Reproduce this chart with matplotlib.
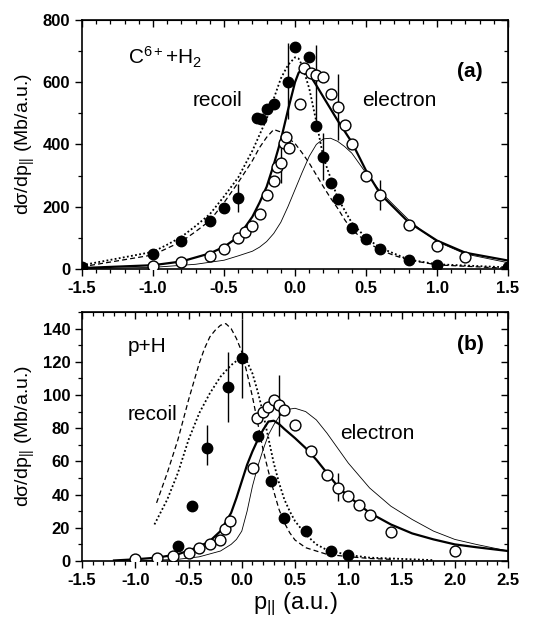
import numpy as np
import matplotlib.pyplot as plt
from matplotlib.ticker import MultipleLocator

plt.rcParams['font.family'] = ['Liberation Sans', 'DejaVu Sans']
plt.rcParams['mathtext.fontset'] = 'custom'
plt.rcParams['mathtext.rm'] = 'Liberation Sans'
plt.rcParams['mathtext.it'] = 'Liberation Sans:italic'
plt.rcParams['mathtext.bf'] = 'Liberation Sans:bold'

# ---- panel (a): C6+ + H2 ----
a_rec_x = [-1.5, -1.0, -0.8, -0.6, -0.5, -0.4, -0.27, -0.24, -0.2, -0.15, -0.05, 0.0,
           0.1, 0.15, 0.2, 0.25, 0.3, 0.4, 0.5, 0.6, 0.8, 1.0, 1.5]
a_rec_y = [5, 48, 89, 155, 196, 227, 484, 481, 513, 530, 602, 714,
           682, 459, 361, 277, 225, 133, 95, 63, 29, 13, 5]
a_ele_x = [-1.0, -0.8, -0.6, -0.5, -0.4, -0.35, -0.3, -0.25, -0.2, -0.15, -0.125, -0.1,
           -0.08, -0.063, -0.044, 0.036, 0.063, 0.11, 0.148, 0.195, 0.25, 0.3, 0.35,
           0.4, 0.5, 0.6, 0.8, 1.0, 1.2]
a_ele_y = [11, 21, 42, 63, 101, 118, 138, 177, 238, 281, 329, 340,
           404, 425, 388, 529, 645, 631, 623, 618, 562, 519, 463,
           402, 300, 238, 141, 75, 37]
# error bars: x, low, high
a_err_x = [-0.4, -0.05, 0.2, -0.1, 0.3, 0.6, 0.15]
a_err_lo = [182, 481, 286, 275, 414, 188, 463]
a_err_hi = [272, 725, 436, 405, 625, 285, 720]

a_thick_x = [-1.5, -1.0, -0.8, -0.6, -0.5, -0.4, -0.3, -0.25, -0.2, -0.15, -0.1, -0.05,
             0.0, 0.025, 0.05, 0.075, 0.1, 0.15, 0.2, 0.3, 0.4, 0.5, 0.6, 0.8, 1.0,
             1.2, 1.5]
a_thick_y = [3, 12, 24, 50, 71, 103, 168, 213, 264, 335, 414, 510,
             600, 630, 643, 640, 626, 590, 552, 477, 407, 316, 241, 150, 91,
             52, 27]
a_thin_x = [-1.5, -1.0, -0.7, -0.5, -0.4, -0.3, -0.25, -0.2, -0.15, -0.1, -0.05, 0.0,
            0.05, 0.1, 0.15, 0.2, 0.25, 0.3, 0.35, 0.4, 0.5, 0.6, 0.7, 0.8, 0.9,
            1.0, 1.2, 1.5]
a_thin_y = [1, 5, 15, 28, 42, 57, 70, 88, 114, 150, 200, 255,
            310, 362, 400, 418, 420, 410, 393, 372, 308, 249, 203, 158, 120,
            88, 48, 20]
a_dot_x = [-1.5, -1.0, -0.9, -0.8, -0.7, -0.6, -0.5, -0.4, -0.3, -0.2, -0.1, -0.05,
           0.0, 0.025, 0.05, 0.1, 0.15, 0.2, 0.3, 0.4, 0.5, 0.6, 0.8, 1.0, 1.5]
a_dot_y = [12, 55, 78, 103, 138, 176, 233, 294, 380, 482, 612, 655,
           680, 676, 654, 580, 473, 357, 228, 148, 100, 68, 30, 15, 5]
a_dash_x = [-1.5, -1.0, -0.8, -0.7, -0.6, -0.5, -0.4, -0.3, -0.25, -0.2, -0.15, -0.1,
            0.0, 0.05, 0.1, 0.15, 0.2, 0.25, 0.3, 0.35, 0.4, 0.5, 0.6, 0.7, 0.8,
            1.0, 1.5]
a_dash_y = [7, 45, 88, 120, 155, 213, 278, 348, 390, 423, 448, 440,
            403, 373, 340, 302, 264, 228, 195, 158, 126, 88, 61, 43, 29,
            13, 2]

# ---- panel (b): p + H ----
b_rec_x = [-0.6, -0.47, -0.33, -0.13, 0.0, 0.15, 0.27, 0.4, 0.6, 0.84, 1.0]
b_rec_y = [9, 33, 68, 105, 122, 75, 48, 26, 18, 6, 3.6]
b_ele_x = [-1.0, -0.8, -0.65, -0.5, -0.4, -0.3, -0.2, -0.16, -0.11, 0.11, 0.14, 0.2,
           0.25, 0.3, 0.35, 0.4, 0.5, 0.65, 0.8, 0.9, 1.0, 1.1, 1.2, 1.4, 2.0]
b_ele_y = [1, 2, 3, 4.6, 7.6, 10, 12.6, 19, 24, 56, 86, 90,
           93, 97, 94, 91, 82, 66, 52, 44, 39, 34, 28, 17.6, 6]
b_err_x = [-0.33, -0.13, 0.0, 0.35, 0.9]
b_err_lo = [58, 84, 98, 75, 36]
b_err_hi = [82, 126, 146, 112, 53]

b_thick_x = [-1.2, -1.0, -0.8, -0.6, -0.4, -0.3, -0.2, -0.1, -0.05, 0.0, 0.05, 0.1,
             0.15, 0.2, 0.25, 0.3, 0.35, 0.4, 0.5, 0.6, 0.7, 0.8, 0.9, 1.0, 1.2,
             1.4, 1.6, 1.8, 2.0, 2.2, 2.5]
b_thick_y = [0.3, 1, 2, 4, 8.6, 12, 18, 29, 38, 48, 58, 66,
             73, 79, 84, 84.5, 82.5, 79.5, 74, 68, 61, 53, 45, 39, 29,
             22, 16.6, 13, 10, 8.3, 6]
b_thin_x = [-1.0, -0.6, -0.4, -0.2, -0.1, -0.05, 0.0, 0.05, 0.1, 0.15, 0.2, 0.25,
            0.3, 0.35, 0.4, 0.45, 0.5, 0.6, 0.7, 0.8, 0.9, 1.0, 1.2, 1.4, 1.6,
            1.8, 2.0, 2.2, 2.5]
b_thin_y = [0, 1, 2.5, 6, 10, 13, 18, 30, 45, 57, 67, 76,
            82, 87, 90, 91.5, 92, 90, 85, 77, 68, 59, 44, 33, 25,
            18, 13, 10, 6]
b_dash_x = [-0.8, -0.75, -0.7, -0.65, -0.6, -0.55, -0.5, -0.45, -0.4, -0.35, -0.3,
            -0.25, -0.2, -0.15, -0.1, -0.05, 0.0, 0.05, 0.1, 0.15, 0.2, 0.25, 0.3,
            0.35, 0.4, 0.45, 0.5, 0.6, 0.8, 1.0, 1.2, 1.4]
b_dash_y = [35, 44, 53, 63, 73, 85, 97, 108, 119, 128, 135,
            139, 142, 143, 140, 134, 126, 113, 99, 83, 67, 54, 42,
            31, 23, 17, 12.6, 8, 4, 2.6, 1.5, 1]
b_dot_x = [-0.82, -0.7, -0.6, -0.5, -0.4, -0.3, -0.2, -0.1, -0.05, 0.0, 0.05, 0.1,
           0.15, 0.2, 0.25, 0.3, 0.35, 0.4, 0.45, 0.5, 0.6, 0.7, 0.8, 1.0, 1.2,
           1.4, 1.8]
b_dot_y = [22, 37, 53, 73, 89, 101, 111, 118, 120.5, 121, 120, 113,
           102, 89, 74, 59, 47, 37, 30, 24, 16, 10, 6.6, 3.6, 2,
           1.5, 0.5]

fig = plt.figure(figsize=(5.34, 6.24), dpi=100)
axa = fig.add_axes([0.1536, 0.569, 0.7978, 0.399])
axb = fig.add_axes([0.1536, 0.101, 0.7978, 0.399])

tick_font = dict(family='Liberation Sans', weight='bold', size=12)


def draw(ax, rec_x, rec_y, ele_x, ele_y, ex, elo, ehi,
         thick, thin, dot, dash):
    ax.plot(dash[0], dash[1], color='black', lw=0.9, ls=(0, (4, 2.5)), zorder=2)
    ax.plot(dot[0], dot[1], color='black', lw=1.3, ls=(0, (1, 1.3)), zorder=2)
    ax.plot(thin[0], thin[1], color='black', lw=0.6, zorder=2)
    ax.plot(thick[0], thick[1], color='black', lw=1.6, zorder=2)
    ax.vlines(ex, elo, ehi, color='black', lw=1.0, zorder=3)
    ax.plot(ele_x, ele_y, 'o', ms=7.8, mfc='white', mec='black', mew=1.0,
            zorder=4)
    ax.plot(rec_x, rec_y, 'o', ms=7.5, mfc='black', mec='black', zorder=5)
    for s in ax.spines.values():
        s.set_linewidth(1.2)
    ax.tick_params(which='both', direction='out', width=1.0,
                   top=False, right=False)
    ax.tick_params(which='major', length=5)
    ax.tick_params(which='minor', length=3, width=0.9)
    for lab in ax.get_xticklabels() + ax.get_yticklabels():
        lab.set_fontproperties(tick_font)
    # inner ticks on top and right
    top = ax.secondary_xaxis('top')
    right = ax.secondary_yaxis('right')
    for sec, loc in ((top, ax.xaxis), (right, ax.yaxis)):
        sec.set_ticks(loc.get_majorticklocs())
        sec.tick_params(which='both', direction='in', labelleft=False,
                        labelright=False, labeltop=False, labelbottom=False)
        sec.tick_params(which='major', length=5, width=1.0)
        sec.tick_params(which='minor', length=3, width=0.9)
    return top, right


axa.set_xlim(-1.5, 1.5)
axa.set_ylim(0, 800)
axa.xaxis.set_minor_locator(MultipleLocator(0.1))
axa.yaxis.set_major_locator(MultipleLocator(200))
axa.yaxis.set_minor_locator(MultipleLocator(100))
axa.set_xticks(np.arange(-1.5, 1.51, 0.5))
axa.set_xticklabels(['-1.5', '-1.0', '-0.5', '0.0', '0.5', '1.0', '1.5'])
ta, ra = draw(axa, a_rec_x, a_rec_y, a_ele_x, a_ele_y, a_err_x, a_err_lo, a_err_hi,
              (a_thick_x, a_thick_y), (a_thin_x, a_thin_y),
              (a_dot_x, a_dot_y), (a_dash_x, a_dash_y))
ta.xaxis.set_minor_locator(MultipleLocator(0.1))
ra.yaxis.set_minor_locator(MultipleLocator(100))

axb.set_xlim(-1.5, 2.5)
axb.set_ylim(0, 150)
axb.xaxis.set_minor_locator(MultipleLocator(0.1))
axb.yaxis.set_minor_locator(MultipleLocator(10))
axb.set_xticks(np.arange(-1.5, 2.51, 0.5))
axb.set_xticklabels(['-1.5', '-1.0', '-0.5', '0.0', '0.5', '1.0', '1.5', '2.0', '2.5'])
axb.set_yticks(np.arange(0, 141, 20))
tb, rb = draw(axb, b_rec_x, b_rec_y, b_ele_x, b_ele_y, b_err_x, b_err_lo, b_err_hi,
              (b_thick_x, b_thick_y), (b_thin_x, b_thin_y),
              (b_dot_x, b_dot_y), (b_dash_x, b_dash_y))
tb.xaxis.set_minor_locator(MultipleLocator(0.1))
rb.yaxis.set_minor_locator(MultipleLocator(10))

ylab = 'd\u03c3/dp$_\\mathregular{||}$ (Mb/a.u.)'
axa.set_ylabel(ylab, fontsize=14, labelpad=4)
axb.set_ylabel(ylab, fontsize=14, labelpad=4)
axb.set_xlabel('p$_\\mathregular{||}$ (a.u.)', fontsize=17, labelpad=2)

axa.text(0.108, 0.823, 'C$^\\mathregular{6+}$+H$_\\mathregular{2}$', fontsize=15,
         transform=axa.transAxes)
axa.text(0.26, 0.655, 'recoil', fontsize=15, transform=axa.transAxes)
axa.text(0.657, 0.655, 'electron', fontsize=15, transform=axa.transAxes)
axa.text(0.88, 0.795, '(a)', fontsize=15, fontweight='bold', va='center',
         transform=axa.transAxes)

axb.text(0.108, 0.839, 'p+H', fontsize=15, transform=axb.transAxes)
axb.text(0.108, 0.566, 'recoil', fontsize=15, transform=axb.transAxes)
axb.text(0.606, 0.49, 'electron', fontsize=15, transform=axb.transAxes)
axb.text(0.88, 0.871, '(b)', fontsize=15, fontweight='bold', va='center',
         transform=axb.transAxes)

fig.savefig('out.png', dpi=100)
